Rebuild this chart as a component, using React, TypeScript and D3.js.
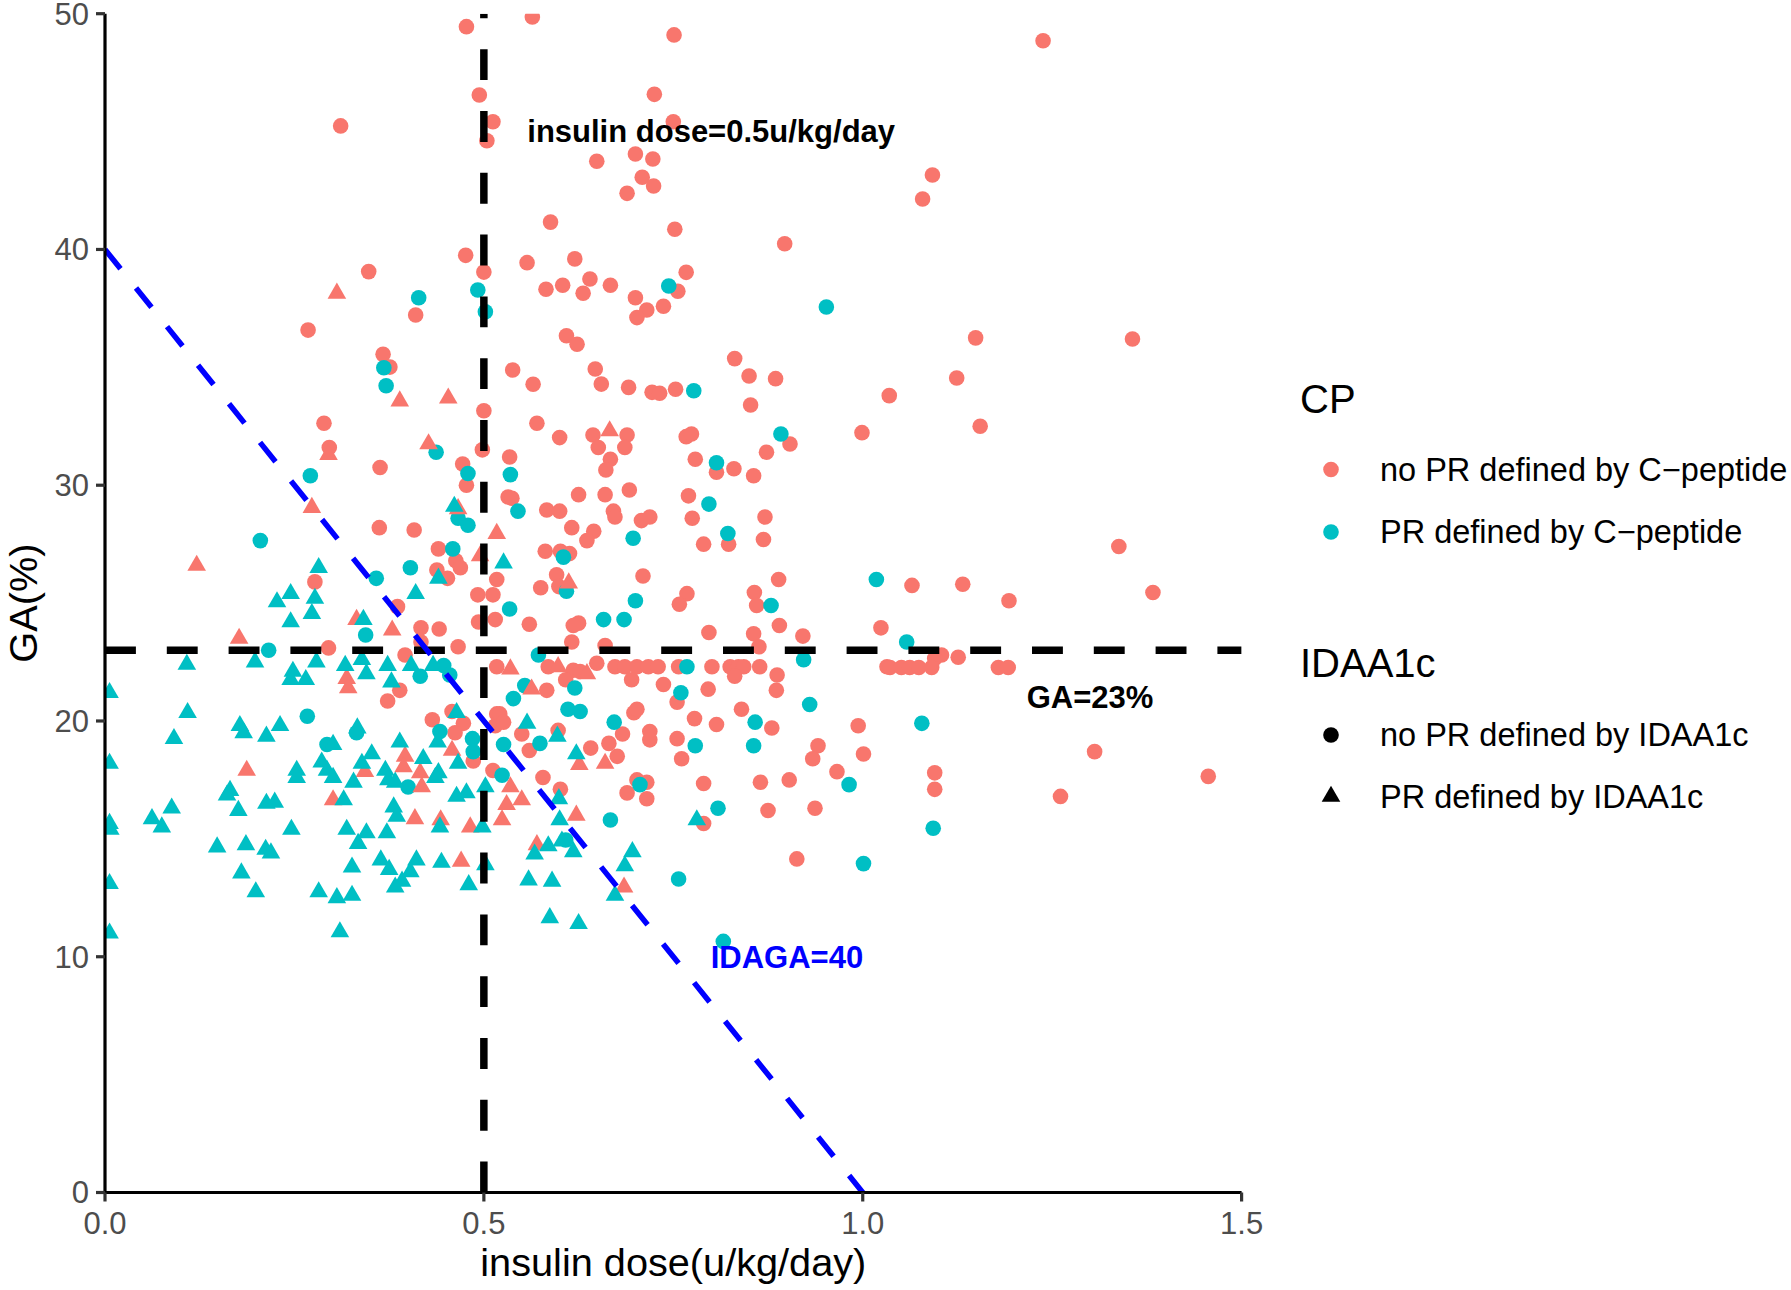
import React from "react";
import * as d3 from "d3";

// ---------- data (insulin dose u/kg/day, GA %) ----------
// no PR defined by C-peptide, no PR defined by IDAA1c  (red circles)
const noCpNoIda: [number, number][] = [
  [0.477,49.45],[0.564,49.86],[0.494,46.55],[0.512,45.42],[0.504,44.61],[0.311,45.24],[0.588,41.16],[0.476,39.75],[0.557,39.44],[0.348,39.06],[0.500,39.04],[0.582,38.31],[0.410,37.22],[0.268,36.58],[0.367,35.55],[0.376,35.01],[0.538,34.89],[0.565,34.28],[0.500,33.16],[0.570,32.63],[0.289,32.63],
  [0.751,49.10],[0.725,46.58],[0.750,45.42],[0.649,43.74],[0.700,44.05],[0.723,43.84],[0.709,43.06],[0.724,42.69],[0.689,42.38],[1.092,43.16],[1.079,42.14],[0.752,40.86],[0.897,40.24],[0.620,39.60],[0.604,38.48],[0.631,38.14],[0.640,38.75],[0.667,38.48],[0.756,38.23],[0.767,39.03],[0.700,37.95],[0.715,37.43],[0.702,37.11],[0.737,37.59],[0.609,36.34],[0.623,35.98],[0.831,35.37],[0.850,34.63],[0.885,34.52],[0.852,33.40],[1.035,33.80],[0.647,34.93],[0.655,34.29],[0.691,34.15],[0.722,33.94],[0.732,33.90],[0.753,34.07],[0.600,32.02],[0.644,32.13],[0.689,32.13],[0.767,32.06],[0.774,32.17],[0.999,32.23],
  [0.296,31.6],[0.498,31.5],[0.363,30.75],[0.472,30.9],[0.477,30.0],[0.362,28.2],[0.408,28.1],[0.44,27.3],[0.463,26.8],[0.438,26.4],[0.469,26.5],[0.452,26.05],[0.277,25.9],[0.517,26.0],[0.492,25.35],[0.512,25.35],[0.386,24.85],[0.493,24.2],[0.515,24.3],[0.417,23.95],[0.441,23.9],[0.295,23.1],[0.417,23.35],[0.466,23.15],[0.396,22.8],[0.389,21.3],[0.373,20.85],[0.517,22.3],[0.432,20.05],[0.458,20.4],[0.473,19.9],[0.462,19.5],[0.517,20.3],[0.515,19.8],[0.486,18.3],[0.512,17.9],
  [0.651,31.6],[0.667,31.1],[0.686,31.6],[0.661,30.65],[0.779,31.1],[0.807,30.55],[0.830,30.7],[0.856,30.4],[0.873,31.4],[0.904,31.75],[0.534,31.2],[0.532,29.5],[0.537,29.45],[0.583,28.95],[0.600,28.9],[0.625,29.6],[0.660,29.6],[0.692,29.8],[0.671,28.9],[0.673,28.65],[0.708,28.5],[0.719,28.65],[0.616,28.2],[0.645,28.05],[0.636,27.65],[0.770,29.55],[0.775,28.6],[0.871,28.65],[0.823,27.5],[0.790,27.5],[0.869,27.7],[0.581,27.2],[0.601,27.2],[0.613,27.1],[0.596,26.2],[0.599,25.7],[0.575,25.65],[0.710,26.15],[0.768,25.4],[0.758,24.95],[0.560,24.1],[0.625,24.15],[0.618,24.05],[0.616,23.35],[0.660,23.2],[0.797,23.75],[0.857,25.45],[0.860,24.9],[0.889,26.0],[0.890,24.05],[1.024,23.95],[0.856,23.7],[0.863,23.15],[0.921,23.6],[1.032,22.3],
  [0.585,22.3],[0.618,22.15],[0.627,22.1],[0.649,22.45],[0.673,22.3],[0.686,22.3],[0.702,22.3],[0.717,22.3],[0.730,22.3],[0.757,22.3],[0.801,22.3],[0.825,22.3],[0.836,22.3],[0.843,22.3],[0.831,21.9],[0.864,22.3],
  [0.608,21.75],[0.695,21.75],[0.737,21.55],[0.583,21.3],[0.755,20.8],[0.796,21.35],[0.886,21.3],[0.887,21.95],[0.521,20.3],[0.526,19.95],[0.550,19.45],[0.598,19.6],[0.560,18.75],[0.698,20.35],[0.702,20.5],[0.683,19.45],[0.719,19.55],[0.719,19.2],[0.778,20.1],[0.807,19.85],[0.840,20.5],[0.880,19.7],[0.994,19.8],[0.755,19.25],[0.641,18.85],[0.665,19.05],[0.676,18.5],[0.761,18.4],[0.941,18.95],[0.934,18.4],[1.001,18.6],[0.966,17.85],[0.903,17.5],[0.865,17.4],[0.790,17.35],[0.702,17.5],[0.715,17.4],[0.689,16.95],[0.715,16.7],[0.578,17.6],[0.601,17.1],[0.790,15.65],[0.875,16.2],[0.937,16.3],
  [0.913,14.15],
  [1.238,48.85],[1.149,36.25],[1.356,36.2],[1.124,34.55],[1.155,32.5],[1.338,27.4],[1.065,25.75],[1.132,25.8],[1.193,25.1],[1.383,25.45],[1.104,22.8],[1.095,22.65],[1.126,22.7],[1.036,22.27],[1.051,22.27],[1.062,22.27],[1.074,22.27],[1.091,22.27],[1.179,22.27],[1.192,22.27],[1.306,18.7],[1.095,17.8],[1.095,17.1],[1.456,17.65],[1.261,16.8],
];

// no PR defined by C-peptide, PR defined by IDAA1c  (red triangles)
const noCpIda: [number, number][] = [
  [0.306,38.14],[0.389,33.57],[0.453,33.69],[0.666,32.30],
  [0.295,31.3],[0.427,31.75],[0.273,29.05],[0.466,29.0],[0.517,27.95],[0.495,27.0],[0.121,26.6],[0.332,24.3],[0.379,23.85],[0.177,23.5],[0.319,21.8],[0.321,21.4],[0.458,18.75],[0.396,18.5],[0.394,18.05],[0.187,17.9],[0.343,17.85],[0.416,17.8],[0.418,17.2],[0.301,16.65],[0.409,15.85],[0.443,15.8],[0.482,15.5],
  [0.612,25.85],[0.535,22.2],[0.598,22.3],[0.636,22.0],[0.563,21.35],[0.626,18.15],[0.660,18.2],[0.535,17.2],[0.530,16.45],[0.550,16.65],[0.524,15.8],[0.622,16.0],
  [0.470,14.05],[0.570,14.75],[0.685,12.95],
];

// PR defined by C-peptide, no PR defined by IDAA1c  (teal circles)
const cpNoIda: [number, number][] = [
  [0.414,37.95],[0.492,38.28],[0.502,37.36],[0.368,34.98],[0.371,34.22],
  [0.744,38.45],[0.952,37.56],[0.777,34.01],[0.892,32.17],
  [0.437,31.4],[0.271,30.4],[0.479,30.5],[0.466,28.6],[0.479,28.3],[0.205,27.65],[0.459,27.3],[0.403,26.5],[0.358,26.05],[0.344,23.65],[0.216,23.0],[0.416,21.9],[0.447,22.35],[0.455,21.95],[0.267,20.2],[0.332,19.5],[0.442,19.55],[0.485,19.25],[0.486,18.7],[0.293,19.0],[0.400,17.2],
  [0.807,30.95],[0.535,30.45],[0.545,28.9],[0.797,29.2],[0.822,27.95],[0.697,27.75],[0.605,26.95],[0.609,25.5],[0.534,24.75],[0.700,25.1],[0.658,24.3],[0.685,24.3],[0.879,24.9],[1.018,26.0],[0.572,22.8],[0.922,22.6],[0.768,22.3],[0.554,21.5],[0.620,21.4],[0.539,20.95],[0.760,21.2],[0.611,20.5],[0.627,20.4],[0.574,19.05],[0.526,19.0],[0.672,19.95],[0.858,19.95],[0.930,20.7],[0.779,18.95],[0.856,18.95],[0.982,17.3],[0.706,17.3],[0.524,17.7],[0.667,15.8],[0.809,16.3],
  [0.608,14.95],[0.757,13.3],[1.001,13.95],[0.816,10.65],
  [1.058,23.35],[1.078,19.9],[1.093,15.45],
];

// PR defined by C-peptide, PR defined by IDAA1c  (teal triangles)
const cpIda: [number, number][] = [
  [0.461,29.1],[0.282,26.5],[0.44,26.05],[0.227,25.05],[0.245,25.4],[0.277,25.2],[0.273,24.55],[0.245,24.2],[0.410,25.4],[0.341,24.3],[0.108,22.4],[0.198,22.5],[0.279,22.5],[0.248,22.1],[0.265,21.75],[0.245,21.75],[0.317,22.35],[0.339,22.6],[0.345,22.0],[0.373,22.35],[0.378,21.65],[0.404,22.35],[0.433,22.35],[0.006,21.2],[0.109,20.35],[0.178,19.8],[0.183,19.5],[0.231,19.8],[0.213,19.35],[0.091,19.25],[0.333,19.7],[0.464,20.35],[0.301,19.0],[0.389,19.1],[0.439,19.1],[0.006,18.2],[0.286,18.25],[0.293,17.9],[0.352,18.6],[0.339,18.2],[0.420,18.4],[0.466,18.2],[0.253,17.9],[0.253,17.6],[0.301,17.6],[0.370,17.9],[0.440,17.8],[0.374,17.5],[0.383,17.4],[0.436,17.6],[0.328,17.4],[0.165,17.05],[0.161,16.85],[0.088,16.3],[0.213,16.5],[0.224,16.55],[0.176,16.2],[0.315,16.65],[0.464,16.8],[0.477,16.95],[0.502,17.2],[0.062,15.85],[0.075,15.5],[0.006,15.65],[0.007,15.4],[0.381,16.35],[0.385,15.95],[0.442,15.5],[0.498,15.5],[0.246,15.4],[0.319,15.4],[0.345,15.25],[0.372,15.25],
  [0.526,26.7],[0.557,19.9],[0.597,19.35],[0.622,18.6],[0.599,16.7],[0.600,15.8],[0.781,15.8],
  [0.148,14.65],[0.186,14.75],[0.212,14.55],[0.219,14.4],[0.334,14.8],[0.180,13.55],[0.199,12.75],[0.326,13.8],[0.282,12.75],[0.306,12.5],[0.326,12.6],[0.310,11.05],[0.364,14.1],[0.375,13.7],[0.411,14.1],[0.403,13.6],[0.392,13.2],[0.383,12.95],[0.444,14.0],[0.480,13.05],[0.502,13.9],[0.006,13.1],[0.006,11.0],
  [0.567,14.35],[0.585,14.7],[0.603,14.9],[0.618,14.45],[0.559,13.25],[0.590,13.2],[0.587,11.65],[0.625,11.4],[0.696,14.45],[0.686,13.85],[0.673,12.6],
];

const xTicks = [0, 0.5, 1.0, 1.5];
const xTickLabels = ["0.0", "0.5", "1.0", "1.5"];
const yTicks = [0, 10, 20, 30, 40, 50];
const yTickLabels = ["0", "10", "20", "30", "40", "50"];

const doseCut = 0.5;      // vertical reference line
const gaCut = 23;         // horizontal reference line
const idagaIntercept = 40; // IDAGA = GA + 40*dose = 40
const idagaSlope = -40;

const cpLegend = ["no PR defined by C\u2212peptide", "PR defined by C\u2212peptide"];
const idaLegend = ["no PR defined by IDAA1c", "PR defined by IDAA1c"];

// ---------- style ----------
const RED = "#F8766D";
const TEAL = "#00BFC4";
const FONT = "'Liberation Sans', Arial, Helvetica, sans-serif";
const W = 1791;
const H = 1290;
const PL = 105, PR = 1241.6, PT = 13.7, PB = 1192.5;

const triPath = d3.symbol().type(d3.symbolTriangle).size(150)() as string;

export default function App() {
  const x = d3.scaleLinear().domain([0, 1.5]).range([PL, PR]);
  const y = d3.scaleLinear().domain([0, 50]).range([PB, PT]);

  const idagaX0 = 0, idagaX1 = 1.5;
  const blueLine = d3.line<[number, number]>().x(d => x(d[0])).y(d => y(d[1]))([
    [idagaX0, idagaIntercept + idagaSlope * idagaX0],
    [idagaX1, idagaIntercept + idagaSlope * idagaX1],
  ]) as string;

  const circles = (data: [number, number][], color: string) =>
    data.map((d, i) => <circle key={i} cx={x(d[0])} cy={y(d[1])} r={7.8} fill={color} />);
  const tris = (data: [number, number][], color: string) =>
    data.map((d, i) => <path key={i} d={triPath} transform={`translate(${x(d[0])},${y(d[1])})`} fill={color} />);

  return (
    <svg width={W} height={H} style={{ position: "absolute", left: 0, top: 0, background: "#fff" }} fontFamily={FONT}>
      <rect x={0} y={0} width={W} height={H} fill="#fff" />
      <defs>
        <clipPath id="panel">
          <rect x={PL} y={PT} width={PR - PL} height={PB - PT} />
        </clipPath>
      </defs>
      <g clipPath="url(#panel)">
        <g>{circles(noCpNoIda, RED)}</g>
        <g>{circles(cpNoIda, TEAL)}</g>
        <g>{tris(noCpIda, RED)}</g>
        <g>{tris(cpIda, TEAL)}</g>
        {/* reference lines */}
        <line x1={x(doseCut)} x2={x(doseCut)} y1={y(0)} y2={y(50)} stroke="#000" strokeWidth={7.5} strokeDasharray="30.9 30.9" />
        <line x1={x(0)} x2={x(1.5)} y1={y(gaCut)} y2={y(gaCut)} stroke="#000" strokeWidth={7.5} strokeDasharray="30.9 30.9" />
        <path d={blueLine} stroke="#0000FF" strokeWidth={5.5} fill="none" strokeDasharray="24.75 24.75" />
      </g>
      {/* annotations */}
      <text x={x(0.8)} y={y(45)} dy="0.35em" textAnchor="middle" fontSize={31} fontWeight="bold" fill="#000">insulin dose=0.5u/kg/day</text>
      <text x={x(1.3)} y={y(21)} dy="0.35em" textAnchor="middle" fontSize={31} fontWeight="bold" fill="#000">GA=23%</text>
      <text x={x(0.9)} y={y(10)} dy="0.35em" textAnchor="middle" fontSize={31} fontWeight="bold" fill="#0000FF">IDAGA=40</text>
      {/* axes */}
      <line x1={PL} x2={PR} y1={PB} y2={PB} stroke="#000" strokeWidth={3.2} />
      <line x1={PL} x2={PL} y1={PB} y2={PT} stroke="#000" strokeWidth={3.2} />
      {xTicks.map((t, i) => (
        <g key={i}>
          <line x1={x(t)} x2={x(t)} y1={PB} y2={PB + 9} stroke="#333" strokeWidth={3.2} />
          <text x={x(t)} y={PB + 41} textAnchor="middle" fontSize={31} fill="#4D4D4D">{xTickLabels[i]}</text>
        </g>
      ))}
      {yTicks.map((t, i) => (
        <g key={i}>
          <line x1={PL - 9} x2={PL} y1={y(t)} y2={y(t)} stroke="#333" strokeWidth={3.2} />
          <text x={PL - 16} y={y(t)} dy="0.35em" textAnchor="end" fontSize={31} fill="#4D4D4D">{yTickLabels[i]}</text>
        </g>
      ))}
      <text x={(PL + PR) / 2} y={1276} textAnchor="middle" fontSize={39.7} fill="#000">insulin dose(u/kg/day)</text>
      <text transform={`translate(37,${(PT + PB) / 2}) rotate(-90)`} textAnchor="middle" fontSize={39.7} fill="#000">GA(%)</text>
      {/* legend */}
      <text x={1300} y={413} fontSize={40} fill="#000">CP</text>
      {cpLegend.map((lab, i) => (
        <g key={i}>
          <circle cx={1331} cy={469.5 + i * 62.5} r={7.8} fill={i === 0 ? RED : TEAL} />
          <text x={1380} y={469.5 + i * 62.5} dy="0.35em" fontSize={32.5} fill="#000">{lab}</text>
        </g>
      ))}
      <text x={1300} y={677} fontSize={40} fill="#000">IDAA1c</text>
      {idaLegend.map((lab, i) => (
        <g key={i}>
          {i === 0 ? (
            <circle cx={1331} cy={735 + i * 61.5} r={7.8} fill="#000" />
          ) : (
            <path d={triPath} transform={`translate(1331,${735 + i * 61.5})`} fill="#000" />
          )}
          <text x={1380} y={735 + i * 61.5} dy="0.35em" fontSize={32.5} fill="#000">{lab}</text>
        </g>
      ))}
    </svg>
  );
}
